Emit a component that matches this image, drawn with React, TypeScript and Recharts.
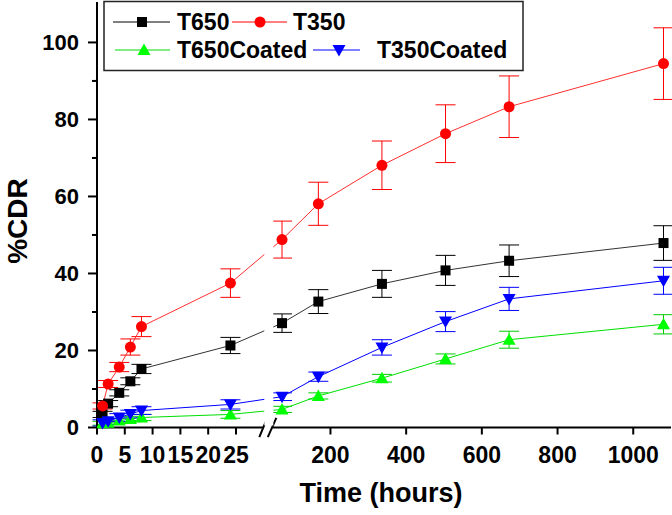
import React from "react";
import {
  LineChart,
  Line,
  XAxis,
  YAxis,
  ErrorBar,
  ReferenceLine,
  ReferenceArea,
  Customized,
  Label,
} from "recharts";

// sampling times (hours)
const hours = [1, 2, 4, 6, 8, 24, 72, 168, 336, 504, 672, 1080];

// %CDR values and errors
const t650 = [3.4, 6.2, 9.0, 12.0, 15.2, 21.3, 27.1, 32.7, 37.3, 40.8, 43.3, 47.9];
const t650Err = [0.8, 0.8, 0.8, 0.9, 1.2, 2.1, 2.4, 3.1, 3.5, 3.9, 4.1, 4.5];
const t350 = [5.6, 11.3, 15.7, 20.9, 26.2, 37.5, 48.8, 58.1, 68.1, 76.3, 83.3, 94.5];
const t350Err = [0.8, 0.9, 1.2, 2.1, 2.6, 3.7, 4.8, 5.6, 6.3, 7.5, 8.0, 9.3];
const t650c = [1.1, 1.25, 1.8, 2.2, 2.6, 3.4, 4.7, 8.2, 12.8, 17.8, 22.8, 26.8];
const t650cErr = [0.5, 0.5, 0.6, 0.7, 0.8, 1.0, 0.8, 0.8, 1.0, 1.3, 2.2, 2.5];
const t350c = [1.2, 1.6, 2.6, 3.5, 4.4, 6.0, 8.0, 13.2, 20.8, 27.5, 33.4, 38.1];
const t350cErr = [0.8, 0.8, 1.0, 1.0, 1.0, 1.2, 1.0, 1.2, 2.0, 2.6, 3.0, 3.5];

// axis tick labels
const xTickHours = [0, 5, 10, 15, 20, 25, 200, 400, 600, 800, 1000];
const yTicks = [0, 10, 20, 30, 40, 50, 60, 70, 80, 90, 100];

// broken x axis: 0-25 h stretched, then 50-1100 h compressed
const LEFT_SCALE = 5.55;
const RIGHT_SCALE = 0.3778;
const RIGHT_OFFSET = 157.5;
const X_MAX = 573;
const toPos = (h: number) => (h <= 30 ? h * LEFT_SCALE : RIGHT_OFFSET + h * RIGHT_SCALE);

const xTicks = xTickHours.map(toPos);
const tickLabel = new Map(xTicks.map((p, i) => [p, String(xTickHours[i])]));

const data = hours.map((h, i) => ({
  pos: toPos(h),
  t650: t650[i],
  t650Err: t650Err[i],
  t350: t350[i],
  t350Err: t350Err[i],
  t650c: t650c[i],
  t650cErr: t650cErr[i],
  t350c: t350c[i],
  t350cErr: t350cErr[i],
}));

const FONT = "'Liberation Sans', Arial, sans-serif";
const AXIS_X = 97;

const Square = (p: any) => (
  <rect key={p.index} x={p.cx - 5} y={p.cy - 5} width={10} height={10} fill="#000" />
);
const Circle = (p: any) => <circle key={p.index} cx={p.cx} cy={p.cy} r={5.5} fill="#ff0000" />;
const TriUp = (p: any) => (
  <path key={p.index} d={`M${p.cx},${p.cy - 6.5}L${p.cx + 6.5},${p.cy + 5}L${p.cx - 6.5},${p.cy + 5}Z`} fill="#00ff00" />
);
const TriDown = (p: any) => (
  <path key={p.index} d={`M${p.cx},${p.cy + 6.5}L${p.cx + 6.5},${p.cy - 5}L${p.cx - 6.5},${p.cy - 5}Z`} fill="#0000ff" />
);

const YTick = (props: any) => {
  const { y, payload } = props;
  const major = payload.value % 20 === 0;
  return (
    <g>
      <line x1={AXIS_X - (major ? 9 : 5)} x2={AXIS_X} y1={y} y2={y} stroke="#000" strokeWidth={2} />
      {major && (
        <text x={AXIS_X - 18} y={y} dy="0.36em" textAnchor="end" fontSize={22} fontWeight="bold" fontFamily={FONT} fill="#000">
          {payload.value}
        </text>
      )}
    </g>
  );
};

const legendRows = [
  [
    { name: "T650", color: "#000", l1: 113, l2: 170, m: 142, tx: 177, mark: "sq" },
    { name: "T350", color: "#ff0000", l1: 232, l2: 287, m: 260, tx: 293, mark: "ci" },
  ],
  [
    { name: "T650Coated", color: "#00dd00", l1: 115, l2: 170, m: 144, tx: 177, mark: "up" },
    { name: "T350Coated", color: "#0000ff", l1: 313, l2: 360, m: 339, tx: 377, mark: "dn" },
  ],
];

const LegendBox = () => (
  <g>
    <rect x={104} y={1.5} width={419} height={69} fill="#fff" stroke="#222" strokeWidth={1.5} />
    {legendRows.map((row, r) =>
      row.map((it) => {
        const cy = r === 0 ? 22 : 50;
        const p = { cx: it.m, cy, index: 0 };
        return (
          <g key={it.name}>
            <line x1={it.l1} x2={it.l2} y1={cy} y2={cy} stroke={it.color} strokeWidth={1} />
            {it.mark === "sq" && Square(p)}
            {it.mark === "ci" && Circle(p)}
            {it.mark === "up" && TriUp(p)}
            {it.mark === "dn" && TriDown(p)}
            <text x={it.tx} y={cy + 8} fontSize={23} fontWeight="bold" fontFamily={FONT} fill="#000">
              {it.name}
            </text>
          </g>
        );
      })
    )}
  </g>
);

export default function App() {
  return (
    <div style={{ position: "absolute", left: 0, top: 0, background: "#fff" }}>
      <LineChart width={672} height={515} data={data} margin={{ top: 2, right: 1, left: 0, bottom: 0 }}>
        <XAxis
          type="number"
          dataKey="pos"
          domain={[0, X_MAX]}
          ticks={xTicks}
          interval={0}
          tickFormatter={(v: number) => tickLabel.get(v) ?? ""}
          axisLine={false}
          tickLine={{ stroke: "#000", strokeWidth: 2 }}
          tickSize={7}
          tickMargin={12}
          height={87.5}
          tick={{ fontSize: 23, fontWeight: "bold", fill: "#000", fontFamily: FONT }}
        >
          <Label
            content={() => (
              <text x={381} y={502} textAnchor="middle" fontSize={27} fontWeight="bold" fontFamily={FONT} fill="#000">
                Time (hours)
              </text>
            )}
          />
        </XAxis>
        <YAxis
          type="number"
          domain={[0, 110.5]}
          ticks={yTicks}
          interval={0}
          width={AXIS_X}
          axisLine={{ stroke: "#000", strokeWidth: 2 }}
          tickLine={false}
          tick={<YTick />}
        >
          <Label
            content={() => (
              <text transform="translate(17,221) rotate(-90)" textAnchor="middle" dominantBaseline="central" fontSize={28} fontWeight="bold" fontFamily={FONT} fill="#000">
                %CDR
              </text>
            )}
          />
        </YAxis>

        <Line dataKey="t650" stroke="#333" strokeWidth={1} dot={Square} isAnimationActive={false}>
          <ErrorBar dataKey="t650Err" width={10} stroke="#000" strokeWidth={1} direction="y" />
        </Line>
        <Line dataKey="t350" stroke="#ff3030" strokeWidth={1} dot={Circle} isAnimationActive={false}>
          <ErrorBar dataKey="t350Err" width={10} stroke="#ff0000" strokeWidth={1} direction="y" />
        </Line>
        <Line dataKey="t650c" stroke="#00e000" strokeWidth={1} dot={TriUp} isAnimationActive={false}>
          <ErrorBar dataKey="t650cErr" width={10} stroke="#00cc00" strokeWidth={1} direction="y" />
        </Line>
        <Line dataKey="t350c" stroke="#0000ff" strokeWidth={1} dot={TriDown} isAnimationActive={false}>
          <ErrorBar dataKey="t350cErr" width={10} stroke="#0000ff" strokeWidth={1} direction="y" />
        </Line>

        {/* gap in the curves at the axis break */}
        <ReferenceArea x1={167} x2={176} y1={0.5} y2={55} fill="#fff" fillOpacity={1} stroke="none" ifOverflow="visible" zIndex={1000} />

        {/* x axis line in two pieces plus break marks */}
        <ReferenceLine segment={[{ x: 0, y: 0 }, { x: 166, y: 0 }]} stroke="#000" strokeWidth={2} ifOverflow="visible" />
        <ReferenceLine segment={[{ x: 174.75, y: 0 }, { x: X_MAX, y: 0 }]} stroke="#000" strokeWidth={2} ifOverflow="visible" />
        <ReferenceLine segment={[{ x: 162, y: -2.5 }, { x: 170, y: 2.5 }]} stroke="#000" strokeWidth={2} ifOverflow="visible" />
        <ReferenceLine segment={[{ x: 170.5, y: -2.5 }, { x: 179, y: 2.5 }]} stroke="#000" strokeWidth={2} ifOverflow="visible" />

        <Customized component={LegendBox} />
      </LineChart>
    </div>
  );
}
